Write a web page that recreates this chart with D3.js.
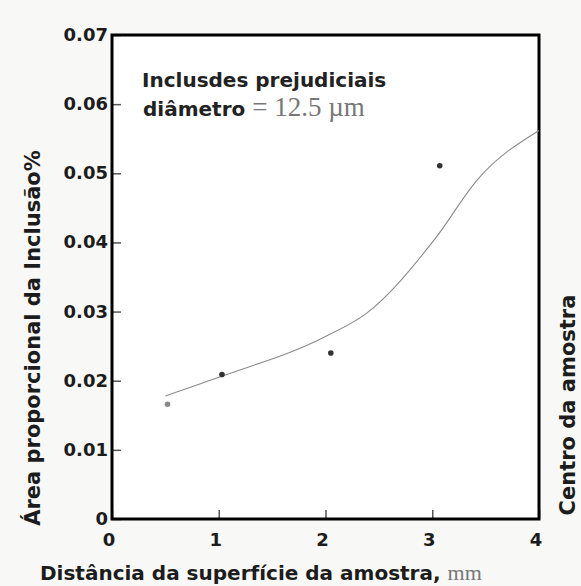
<!DOCTYPE html>
<html>
<head>
<meta charset="utf-8">
<script src="https://cdn.jsdelivr.net/npm/d3@7"></script>
<style>
  html, body { margin: 0; padding: 0; background: #f8f8f6; }
  svg { display: block; }
</style>
</head>
<body>
<script>
// Measured inclusion area fraction vs. distance from the sample surface
const distances = [0.52, 1.03, 2.05, 3.07];
const areaPercent = [0.0166, 0.0209, 0.0240, 0.0511];

// Smoothed trend line knots
const trendX = [0.5, 1.0, 2.0, 2.38, 3.02, 3.43, 4.0];
const trendY = [0.0178, 0.0205, 0.0264, 0.0297, 0.0404, 0.0492, 0.0562];

const xTicks = [0, 1, 2, 3, 4];
const yTicks = [0, 0.01, 0.02, 0.03, 0.04, 0.05, 0.06, 0.07];

const W = 581, H = 586;
const svg = d3.select("body").append("svg").attr("width", W).attr("height", H);

const x = d3.scaleLinear().domain([0, 4]).range([112, 539]);
const y = d3.scaleLinear().domain([0, 0.07]).range([519, 35]);

const sans = "'DejaVu Sans', Verdana, sans-serif";
const serif = "'Liberation Serif', 'Times New Roman', serif";
const ink = "#1c1c1c";

// plot area
svg.append("rect")
  .attr("x", x(0)).attr("y", y(0.07))
  .attr("width", x(4) - x(0)).attr("height", y(0) - y(0.07))
  .attr("fill", "#ffffff");

// axes with inward ticks
const yAxis = d3.axisRight(y).tickValues(yTicks).tickSize(9).tickFormat("");
const gy = svg.append("g").attr("transform", `translate(${x(0)},0)`).call(yAxis);
gy.select(".domain").remove();
gy.selectAll(".tick line").attr("stroke", "#555").attr("stroke-width", 1.5);

const xAxis = d3.axisTop(x).tickValues(xTicks).tickSize(9).tickFormat("");
const gx = svg.append("g").attr("transform", `translate(0,${y(0)})`).call(xAxis);
gx.select(".domain").remove();
gx.selectAll(".tick line").attr("stroke", "#555").attr("stroke-width", 1.5);

// tick labels
svg.append("g").selectAll("text").data(yTicks).join("text")
  .attr("x", x(0) - 4).attr("y", d => y(d) + 6)
  .attr("text-anchor", "end")
  .attr("font-family", sans).attr("font-weight", "bold")
  .attr("font-size", 18).attr("fill", ink)
  .text(d => d === 0 ? "0" : d.toFixed(2));

svg.append("g").selectAll("text").data(xTicks).join("text")
  .attr("x", d => x(d) - 3).attr("y", y(0) + 27)
  .attr("text-anchor", "middle")
  .attr("font-family", sans).attr("font-weight", "bold")
  .attr("font-size", 18).attr("fill", ink)
  .text(d => d);

// frame
svg.append("rect")
  .attr("x", x(0)).attr("y", y(0.07))
  .attr("width", x(4) - x(0)).attr("height", y(0) - y(0.07))
  .attr("fill", "none").attr("stroke", "#000").attr("stroke-width", 3);

// trend curve
const line = d3.line()
  .x(d => x(d[0])).y(d => y(d[1]))
  .curve(d3.curveMonotoneX);
const trend = trendX.map((v, i) => [v, trendY[i]]);
svg.append("path")
  .attr("d", line(trend))
  .attr("fill", "none").attr("stroke", "#8a8a8a").attr("stroke-width", 1.1);

// data points
svg.append("g").selectAll("circle").data(distances).join("circle")
  .attr("cx", d => x(d)).attr("cy", (d, i) => y(areaPercent[i]))
  .attr("r", 2.8)
  .attr("fill", (d, i) => i === 0 ? "#888" : "#333");

// annotation
svg.append("text")
  .attr("x", 142).attr("y", 87)
  .attr("font-family", sans).attr("font-size", 20).attr("font-weight", "bold").attr("fill", "#222")
  .text("Inclusdes prejudiciais");
const t2 = svg.append("text")
  .attr("x", 143).attr("y", 116)
  .attr("font-family", sans).attr("font-size", 20).attr("font-weight", "bold").attr("fill", "#222");
t2.append("tspan").text("diâmetro ");
t2.append("tspan").attr("font-family", serif).attr("font-weight", "normal")
  .attr("font-size", 27).attr("fill", "#777").text("= 12.5 µm");

// axis titles
svg.append("text")
  .attr("transform", `translate(40,338) rotate(-90)`)
  .attr("text-anchor", "middle")
  .attr("font-family", sans).attr("font-weight", "bold")
  .attr("font-size", 21).attr("fill", ink)
  .text("Área proporcional da Inclusão%");

svg.append("text")
  .attr("transform", `translate(575,405) rotate(-90)`)
  .attr("text-anchor", "middle")
  .attr("font-family", sans).attr("font-weight", "bold")
  .attr("font-size", 21).attr("fill", ink)
  .text("Centro da amostra");

const xt = svg.append("text")
  .attr("x", 40).attr("y", 580)
  .attr("font-family", sans).attr("font-weight", "bold")
  .attr("font-size", 20).attr("fill", ink);
xt.append("tspan").text("Distância da superfície da amostra, ");
xt.append("tspan").attr("font-family", serif).attr("font-weight", "normal")
  .attr("fill", "#777").attr("font-size", 22).text("mm");
</script>
</body>
</html>
